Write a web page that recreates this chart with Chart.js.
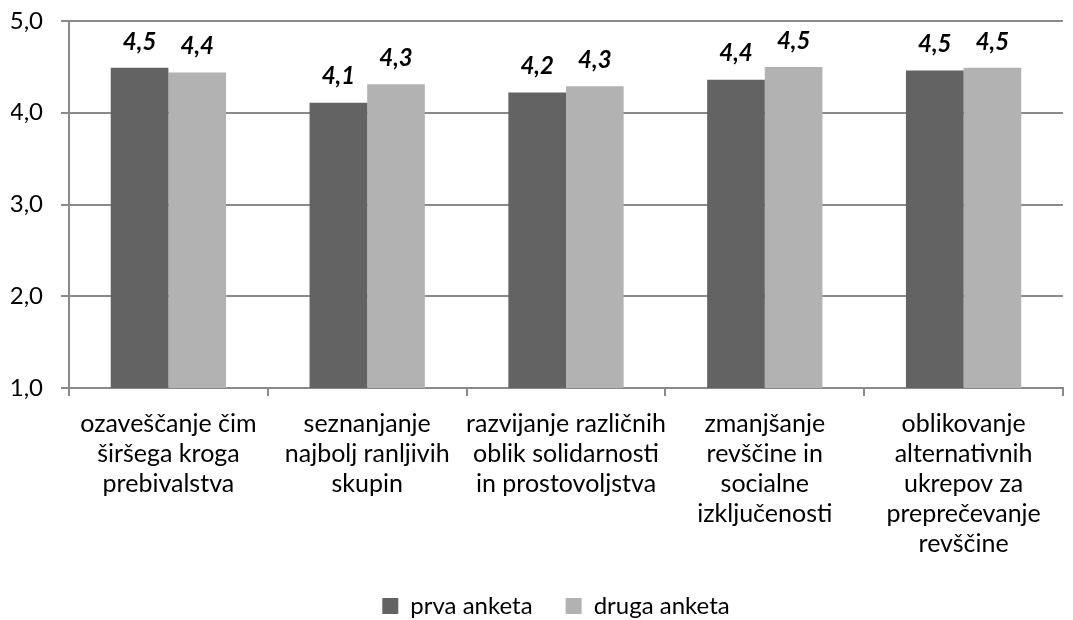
<!DOCTYPE html>
<html>
<head>
<meta charset="utf-8">
<script src="https://cdn.jsdelivr.net/npm/chart.js@4"></script>
<style>
  html, body { margin: 0; padding: 0; background: #fff; }
  #wrap { width: 1073px; height: 620px; }
</style>
</head>
<body>
<div id="wrap"><canvas id="chart"></canvas></div>
<script>
// categories (multi-line labels as in the original)
var categories = [
  ["ozaveščanje čim", "širšega kroga", "prebivalstva"],
  ["seznanjanje", "najbolj ranljivih", "skupin"],
  ["razvijanje različnih", "oblik solidarnosti", "in prostovoljstva"],
  ["zmanjšanje", "revščine in", "socialne", "izključenosti"],
  ["oblikovanje", "alternativnih", "ukrepov za", "preprečevanje", "revščine"]
];
var prvaAnketa  = [4.49, 4.11, 4.22, 4.36, 4.46];
var drugaAnketa = [4.44, 4.31, 4.29, 4.50, 4.49];
var yTicks = [1, 2, 3, 4, 5];

var FONT = "Lato, 'Open Sans', sans-serif";

function fmt(v) {
  return v.toFixed(1).replace('.', ',');
}

// draws the bold italic values above each bar
// (and nudges the legend a bit, like in the original)
var valueLabels = {
  id: 'valueLabels',
  afterLayout: function(chart) {
    chart.legend.left += 19;
    chart.legend.right += 19;
    chart.legend.top += 6;
    chart.legend.bottom += 6;
  },
  afterDatasetsDraw: function(chart) {
    var ctx = chart.ctx;
    ctx.save();
    ctx.font = "italic bold 24px " + FONT;
    ctx.fillStyle = '#000';
    ctx.textAlign = 'center';
    ctx.textBaseline = 'middle';
    chart.data.datasets.forEach(function(ds, i) {
      var meta = chart.getDatasetMeta(i);
      meta.data.forEach(function(bar, j) {
        ctx.fillText(fmt(ds.data[j]), bar.x, bar.y - 26);
      });
    });
    ctx.restore();
  }
};

function start() {
  var canvas = document.getElementById('chart');
  canvas.width = 1073;
  canvas.height = 620;

  new Chart(canvas, {
    type: 'bar',
    data: {
      labels: categories,
      datasets: [{
        label: 'prva anketa',
        data: prvaAnketa,
        backgroundColor: '#636363',
        categoryPercentage: 0.58,
        barPercentage: 1
      }, {
        label: 'druga anketa',
        data: drugaAnketa,
        backgroundColor: '#b2b2b2',
        categoryPercentage: 0.58,
        barPercentage: 1
      }]
    },
    options: {
      responsive: false,
      animation: false,
      layout: { padding: { top: 21, right: 10, left: 11, bottom: -2 } },
      plugins: {
        tooltip: { enabled: false },
        legend: {
          position: 'bottom',
          labels: {
            font: { family: FONT, size: 24 },
            color: '#000',
            boxWidth: 16,
            boxHeight: 16,
            padding: 33
          }
        }
      },
      scales: {
        x: {
          afterFit: function(axis) {
            // fixed axis band, labels fit inside their categories
            axis.height = 167;
            axis.paddingLeft = 0;
            axis.paddingRight = 0;
          },
          grid: {
            offset: true,
            drawOnChartArea: false,
            drawTicks: true,
            tickLength: 8,
            color: '#8a8a8a',
            lineWidth: 2
          },
          border: { color: '#8a8a8a', width: 2 },
          ticks: {
            font: { family: FONT, size: 25, lineHeight: 30 / 25 },
            color: '#000',
            padding: 13,
            maxRotation: 0,
            autoSkip: false
          }
        },
        y: {
          min: yTicks[0],
          max: yTicks[yTicks.length - 1],
          afterBuildTicks: function(axis) {
            axis.ticks = yTicks.map(function(v) { return { value: v }; });
          },
          afterFit: function(axis) {
            axis.width = 58;
            axis.paddingTop = 0;
            axis.paddingBottom = 0;
          },
          grid: {
            color: '#8a8a8a',
            lineWidth: 2,
            tickLength: 8
          },
          border: { color: '#8a8a8a', width: 2 },
          ticks: {
            font: { family: FONT, size: 24 },
            color: '#000',
            padding: 18,
            callback: function(v) { return fmt(v); }
          }
        }
      }
    },
    plugins: [valueLabels]
  });
}

window.addEventListener("load", start, false);
</script>
</body>
</html>
